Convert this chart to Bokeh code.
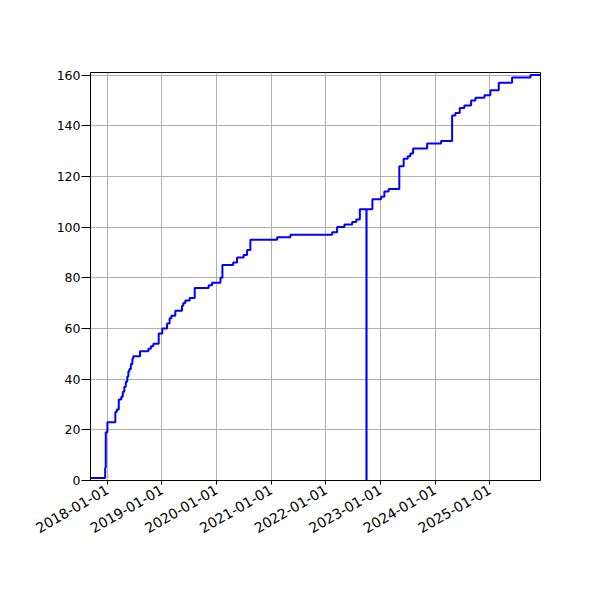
import math
import pandas as pd
from bokeh.plotting import figure
from bokeh.models import Range1d, FixedTicker, DatetimeTickFormatter
from bokeh.embed import file_html
from bokeh.resources import INLINE

dates = [
    "2017-09-10", "2017-12-17", "2017-12-21", "2018-01-01", "2018-02-23",
    "2018-03-05", "2018-03-18", "2018-04-04", "2018-04-14", "2018-04-24",
    "2018-05-04", "2018-05-14", "2018-05-21", "2018-05-28", "2018-06-07",
    "2018-06-17", "2018-06-23", "2018-08-07", "2018-10-02", "2018-10-19",
    "2018-11-04", "2018-12-10", "2019-01-03", "2019-02-04", "2019-02-21",
    "2019-03-05", "2019-03-31", "2019-05-15", "2019-05-24", "2019-06-06",
    "2019-07-05", "2019-08-08", "2019-11-09", "2019-12-02", "2020-01-27",
    "2020-02-09", "2020-04-21", "2020-05-17", "2020-06-30", "2020-07-23",
    "2020-08-14", "2021-02-09", "2021-05-09", "2022-02-12", "2022-03-17",
    "2022-05-05", "2022-06-26", "2022-07-23", "2022-08-16", "2022-09-29",
    "2022-09-30", "2022-11-08", "2023-01-05", "2023-01-27", "2023-02-25",
    "2023-05-07", "2023-06-05", "2023-07-02", "2023-07-20", "2023-08-07",
    "2023-11-09", "2024-02-10", "2024-04-24", "2024-05-16", "2024-06-14",
    "2024-07-15", "2024-08-29", "2024-09-27", "2024-11-26", "2025-01-05",
    "2025-03-02", "2025-05-30", "2025-09-30", "2025-12-06",
]
counts = [
    1, 5, 19, 23, 27,
    28, 32, 33, 35, 37,
    39, 41, 43, 44, 46,
    48, 49, 51, 52, 53,
    54, 58, 60, 62, 64,
    65, 67, 69, 70, 71,
    72, 76, 77, 78, 80,
    85, 86, 88, 89, 91,
    95, 96, 97, 98, 100,
    101, 102, 103, 107, 0,
    107, 111, 112, 114, 115,
    124, 127, 128, 129, 131,
    133, 134, 144, 145, 147,
    148, 150, 151, 152, 154,
    157, 159, 160, 160,
]
x_tick_labels = ["2018-01-01", "2019-01-01", "2020-01-01", "2021-01-01",
                 "2022-01-01", "2023-01-01", "2024-01-01", "2025-01-01"]
y_ticks = [0, 20, 40, 60, 80, 100, 120, 140, 160]

xs = pd.to_datetime(dates)
tick_ms = [pd.Timestamp(t).value / 1e6 for t in x_tick_labels]

p = figure(width=584, height=584, x_axis_type="datetime",
           output_backend="svg", toolbar_location=None,
           frame_width=450, frame_height=408,
           min_border_left=90, min_border_right=44,
           min_border_top=72, min_border_bottom=104)
p.x_range = Range1d(xs[0], xs[-1])
p.y_range = Range1d(0, 161)

p.step(xs, counts, mode="after", line_color="blue", line_width=2)

p.xaxis.ticker = FixedTicker(ticks=tick_ms)
p.xaxis.formatter = DatetimeTickFormatter(days="%Y-%m-%d", months="%Y-%m-%d",
                                          years="%Y-%m-%d")
p.xaxis.major_label_orientation = math.pi / 6
p.yaxis.ticker = FixedTicker(ticks=y_ticks)

for ax in (p.xaxis, p.yaxis):
    ax.major_label_text_font = "DejaVu Sans"
    ax.major_label_text_color = "black"
    ax.axis_line_color = "black"
    ax.axis_line_width = 1
    ax.major_tick_line_color = "black"
    ax.major_tick_in = 0
    ax.minor_tick_line_color = None

p.xaxis.major_label_text_font_size = "14px"
p.yaxis.major_label_text_font_size = "12.5px"
p.xaxis.major_tick_out = 4
p.xaxis.major_label_standoff = 4
p.yaxis.major_tick_out = 9
p.yaxis.major_label_standoff = 1

p.grid.grid_line_color = "#b0b0b0"
p.grid.grid_line_width = 1
p.outline_line_color = "black"
p.outline_line_width = 1
p.outline_line_alpha = 1
p.background_fill_color = "white"
p.border_fill_color = "white"

open("out.html", "w").write(file_html(p, INLINE))
